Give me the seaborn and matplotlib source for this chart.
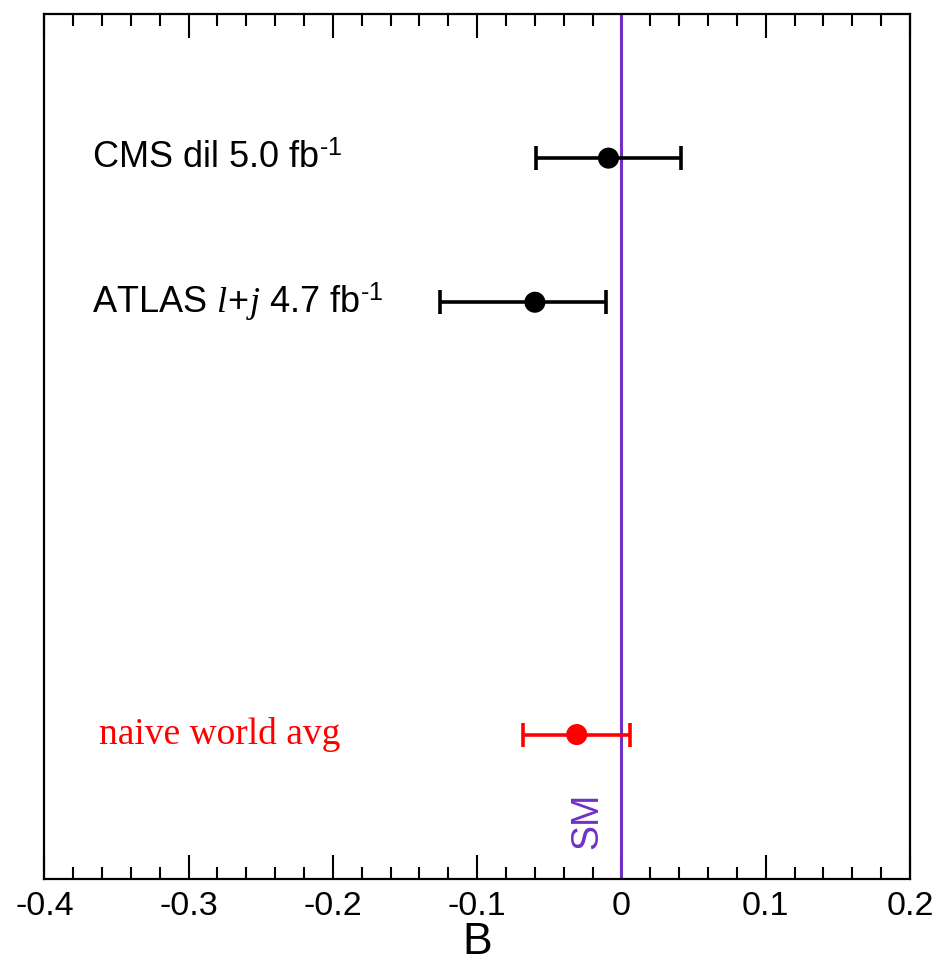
"""
Forward-backward asymmetry B: measurements vs SM
"""

import numpy as np
import matplotlib
matplotlib.use('Agg')
import matplotlib.pyplot as plt
from matplotlib.ticker import MultipleLocator
import seaborn as sns
import pandas as pd

# Data
labels = [r'CMS dil 5.0 fb$^{\text{-1}}$', r'ATLAS $l\!+\!j$ 4.7 fb$^{\text{-1}}$', 'naive world avg']
values = [-0.009, -0.060, -0.031]
err_lo = [0.050, 0.066, 0.037]
err_hi = [0.050, 0.049, 0.037]
rows = [5.0, 4.0, 1.0]
colors = ['black', 'black', 'red']
sm_value = 0.0

sns.set_style('ticks')
plt.rcParams['font.family'] = ['Liberation Sans', 'DejaVu Sans']
plt.rcParams['mathtext.fontset'] = 'custom'
plt.rcParams['mathtext.rm'] = 'Liberation Sans'
plt.rcParams['mathtext.it'] = 'Liberation Serif:italic'
plt.rcParams['text.color'] = 'black'
plt.rcParams['axes.labelcolor'] = 'black'
plt.rcParams['xtick.color'] = 'black'

df = pd.DataFrame({'label': labels, 'B': values, 'row': rows, 'color': colors})

fig = plt.figure(figsize=(9.41, 9.66), dpi=100)
ax = fig.add_axes([0.0471, 0.0904, 0.9200, 0.8951])

# SM line
ax.axvline(sm_value, color='#7030c8', lw=2.2, zorder=1)
ax.text(sm_value - 0.024, 0.40, 'SM', color='#7030c8', rotation=90,
        fontsize=27, ha='center', va='center')

# error bars
for i in range(len(df)):
    ax.errorbar(values[i], rows[i], xerr=[[err_lo[i]], [err_hi[i]]], fmt='none',
                ecolor=colors[i], elinewidth=2.6, capsize=8.6, capthick=2.6, zorder=2)

sns.scatterplot(data=df, x='B', y='row', hue='color', palette={'black': 'black', 'red': 'red'},
                s=230, edgecolor='none', legend=False, ax=ax, zorder=3)

# labels
ax.text(-0.367, rows[0], labels[0], fontsize=26, ha='left', va='center')
ax.text(-0.367, rows[1], labels[1], fontsize=26, ha='left', va='center')
ax.text(-0.362, rows[2], labels[2], fontsize=27, ha='left', va='center',
        color='red', family='Liberation Serif')

ax.set_xlim(-0.4, 0.2)
ax.set_ylim(0, 6)
ax.xaxis.set_major_locator(MultipleLocator(0.1))
ax.xaxis.set_minor_locator(MultipleLocator(0.02))
ax.set_xticks(np.arange(-0.4, 0.21, 0.1))
ax.set_xticklabels(['-0.4', '-0.3', '-0.2', '-0.1', '0', '0.1', '0.2'])
ax.set_yticks([])
ax.tick_params(axis='x', which='major', direction='in', length=17.3, width=1.5,
               top=True, labelsize=24.5, pad=9)
ax.tick_params(axis='x', which='minor', direction='in', length=8.6, width=1.5, top=True)
for s in ax.spines.values():
    s.set_linewidth(1.6)
    s.set_color('black')
ax.set_xlabel('B', fontsize=32, labelpad=0)
ax.set_ylabel('')

plt.savefig('out.png', dpi=100)
plt.close()
